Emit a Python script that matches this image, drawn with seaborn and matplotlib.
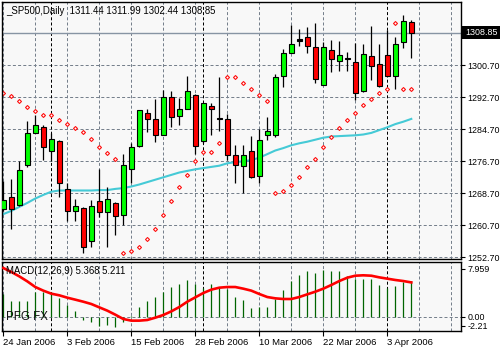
import numpy as np
import matplotlib
matplotlib.use("Agg")
import matplotlib.pyplot as plt
from matplotlib.patches import Rectangle
import seaborn as sns

# ---------------- data ----------------
opens = [1264.9, 1267.9, 1265.7, 1275.7, 1283.9, 1285.2, 1279.4, 1281.9, 1269.7, 1264.2,
         1265.0, 1256.7, 1266.8, 1264.1, 1266.4, 1263.4, 1274.9, 1280.5, 1288.9, 1287.4,
         1283.4, 1292.7, 1288.1, 1289.9, 1293.4, 1281.9, 1290.5, 1287.4, 1287.4, 1278.3,
         1275.6, 1279.3, 1273.1, 1283.3, 1283.4, 1298.0, 1303.9, 1307.0, 1307.9, 1305.2,
         1295.9, 1304.5, 1301.9, 1302.4, 1301.5, 1294.2, 1303.0, 1301.0, 1303.3, 1298.1,
         1306.6, 1311.44]
highs = [1271.8, 1272.3, 1276.8, 1286.9, 1288.3, 1285.8, 1283.7, 1282.0, 1271.4, 1267.4,
         1265.4, 1267.0, 1274.8, 1270.2, 1266.6, 1278.5, 1281.2, 1289.6, 1289.8, 1292.3,
         1294.5, 1294.3, 1292.6, 1298.0, 1293.5, 1291.3, 1291.2, 1297.7, 1288.5, 1280.8,
         1280.8, 1283.0, 1284.9, 1287.8, 1298.5, 1304.7, 1310.8, 1309.9, 1310.2, 1311.2,
         1306.6, 1307.0, 1306.8, 1304.1, 1306.4, 1306.0, 1310.5, 1306.0, 1309.5, 1307.9,
         1313.3, 1311.99]
lows = [1264.4, 1259.7, 1265.5, 1275.4, 1283.7, 1277.0, 1276.9, 1267.9, 1261.9, 1261.9,
        1253.9, 1255.2, 1262.9, 1255.2, 1258.3, 1260.9, 1271.2, 1280.4, 1284.1, 1281.6,
        1283.3, 1285.4, 1285.8, 1289.8, 1278.5, 1281.4, 1283.3, 1284.4, 1277.0, 1271.4,
        1268.7, 1272.5, 1271.2, 1282.0, 1282.9, 1295.2, 1303.8, 1305.5, 1303.9, 1296.2,
        1295.8, 1299.1, 1299.3, 1299.4, 1292.0, 1294.1, 1297.0, 1295.2, 1298.0, 1294.8,
        1305.1, 1302.44]
closes = [1267.0, 1264.9, 1274.5, 1283.7, 1285.8, 1280.2, 1282.2, 1271.2, 1264.2, 1265.5,
          1255.2, 1265.5, 1264.1, 1267.4, 1263.1, 1275.8, 1280.2, 1289.5, 1287.2, 1283.4,
          1292.9, 1287.9, 1289.9, 1294.4, 1280.6, 1291.2, 1289.7, 1287.4, 1278.4, 1275.8,
          1278.4, 1272.7, 1282.0, 1284.3, 1297.7, 1303.7, 1306.0, 1307.0, 1305.6, 1297.4,
          1305.2, 1302.2, 1303.3, 1302.4, 1293.7, 1303.5, 1300.6, 1295.6, 1298.1, 1306.0,
          1311.8, 1308.85]
moving_avg = [1263.5, 1264.3, 1265.3, 1266.3, 1267.4, 1268.3, 1269.1, 1269.4, 1269.4, 1269.4,
              1269.4, 1269.4, 1269.5, 1269.5, 1269.8, 1270.0, 1270.4, 1270.9, 1271.5, 1272.1,
              1272.7, 1273.3, 1273.9, 1274.3, 1274.7, 1275.0, 1275.3, 1275.6, 1276.2, 1276.5,
              1276.7, 1277.0, 1277.6, 1278.5, 1279.4, 1280.0, 1280.7, 1281.2, 1281.6, 1282.1,
              1282.6, 1282.9, 1283.0, 1283.1, 1283.2, 1283.4, 1283.8, 1284.5, 1285.2, 1286.0,
              1286.6, 1287.3]
sar = [1293.7, 1293.1, 1291.8, 1290.4, 1289.2, 1288.2, 1288.2, 1287.0, 1286.0, 1285.0,
       1284.0, 1282.2, 1280.4, 1278.7, 1277.2, 1253.9, 1254.4, 1255.4, 1257.4, 1259.9,
       1263.2, 1266.9, 1270.2, 1273.2, 1276.7, 1279.0, 1279.0, 1281.4, 1297.9, 1297.7,
       1296.4, 1294.9, 1293.2, 1291.7, 1268.7, 1269.2, 1270.7, 1272.9, 1275.4, 1277.4,
       1280.2, 1282.7, 1285.0, 1287.1, 1288.9, 1290.7, 1292.2, 1293.7, 1294.9, 1311.2,
       1294.9, 1294.9]
macd = [3.4, 2.33, 2.33, 2.33, 3.75, 3.75, 3.75, 2.9, 1.72, 0.81,
        -0.46, -0.81, -1.42, -1.32, -1.52, -0.81, 0.15, 1.42, 2.43, 3.04,
        3.75, 4.56, 4.96, 5.57, 4.96, 4.36, 4.96, 4.56, 4.15, 3.04,
        2.53, 1.32, 1.42, 1.42, 2.63, 4.05, 5.37, 6.28, 6.89, 6.59,
        7.09, 6.89, 6.89, 6.18, 5.78, 5.67, 5.67, 4.76, 4.36, 4.66,
        5.27, 5.368]
signal = [7.4, 6.8, 6.13, 5.37, 4.51, 3.96, 3.5, 3.25, 2.89, 2.59,
          2.28, 1.93, 1.42, 0.92, 0.31, -0.35, -0.6, -0.6, -0.5, -0.15,
          0.26, 0.81, 1.47, 2.28, 2.94, 3.6, 4.11, 4.41, 4.51, 4.51,
          4.26, 3.96, 3.45, 2.99, 2.79, 2.69, 2.69, 2.99, 3.4, 3.8,
          4.26, 4.82, 5.42, 5.93, 6.23, 6.29, 6.23, 5.98, 5.78, 5.58,
          5.42, 5.211]
date_labels = ["24 Jan 2006", "3 Feb 2006", "15 Feb 2006", "28 Feb 2006",
               "10 Mar 2006", "22 Mar 2006", "3 Apr 2006"]
date_label_bars = [0, 8, 16, 24, 32, 40, 48]
month_sep_bars = [6, 25, 48]
price_ticks = [1252.70, 1260.70, 1268.70, 1276.70, 1284.70, 1292.70, 1300.70]
last_price = 1308.85
title = "_SP500,Daily  1311.44 1311.99 1302.44 1308.85"
macd_title = "MACD(12,26,9) 5.368 5.211"

# ---------------- figure ----------------
W, H = 500, 350
plt.rcParams['font.family'] = ['Liberation Sans', 'DejaVu Sans']
fig = plt.figure(figsize=(W / 100, H / 100), dpi=100, facecolor='white')

def fx(px):
    return px / W

def fy(py):
    return 1 - py / H

left_px, right_px = 2, 460.5
main_top, main_bot = 2.3, 259.3
macd_top, macd_bot = 261.5, 330.5
ax = fig.add_axes([fx(left_px), fy(main_bot), fx(right_px - left_px), (main_bot - main_top) / H])
axm = fig.add_axes([fx(left_px), fy(macd_bot), fx(right_px - left_px), (macd_bot - macd_top) / H])

bg = '#F8F8F8'
grid_c = '#76808C'
dash = (0, (3, 2.2))
px = 0.72  # one pixel in points
lab_fs = 6.4

n = len(closes)
idx = np.arange(n)
xmin = -(3.3 - left_px) / 8
xmax = (right_px - 3.3) / 8

for a in (ax, axm):
    a.set_facecolor(bg)
    a.set_xlim(xmin, xmax)
    for s in a.spines.values():
        s.set_color('black')
        s.set_linewidth(1.0)
    for g in range(0, 57, 4):
        if g in month_sep_bars:
            continue
        a.axvline(g, color=grid_c, lw=px, ls=dash, zorder=0.5)
    for m in month_sep_bars:
        a.axvline(m, color='black', lw=px, ls=dash, zorder=0.6)

# ---- main panel ----
ax.set_ylim(1317.025 - main_bot / 4, 1317.025 - main_top / 4)
for p in price_ticks + [1308.70]:
    ax.axhline(p, color=grid_c, lw=px, ls=dash, zorder=0.5)
ax.axhline(last_price, color='#8794A3', lw=1.0, zorder=0.7)

sns.lineplot(x=idx, y=moving_avg, ax=ax, color='#45CAD6', lw=1.5, zorder=2, legend=False)
sns.scatterplot(x=idx, y=sar, ax=ax, marker='D', s=4, color='white',
                edgecolor='#FF1010', linewidth=0.8, zorder=2.5, legend=False)

o = np.array(opens); c = np.array(closes)
ax.vlines(idx, lows, highs, color='black', lw=0.9, zorder=3)
body_col = ['#00FF00' if cc > oo else ('#FF0000' if cc < oo else 'black') for oo, cc in zip(o, c)]
heights = np.where(np.abs(c - o) < 0.05, 0.35, np.abs(c - o))
bottoms = np.where(np.abs(c - o) < 0.05, o - 0.175, np.minimum(o, c))
ax.bar(idx, heights, bottom=bottoms, width=0.56, color=body_col,
       edgecolor='black', linewidth=0.8, zorder=4)

ax.yaxis.tick_right()
ax.set_yticks(price_ticks)
ax.set_yticklabels([f"{p:.2f}" for p in price_ticks])
ax.tick_params(axis='y', direction='out', length=3, width=0.8, pad=2, labelsize=lab_fs, colors='black')
ax.tick_params(axis='x', bottom=False, labelbottom=False)
ax.set_xlabel(''); ax.set_ylabel('')

fig.text(fx(6.5), fy(11), title, fontsize=6.9, va='center', ha='left', color='black')

# price box
yb = fy(38.5)
fig.patches.append(Rectangle((fx(461), yb), fx(39), 12.5 / H, transform=fig.transFigure,
                             facecolor='black', edgecolor='none', zorder=5))
fig.text(fx(465), fy(32.4), f"{last_price:.2f}", color='white', fontsize=lab_fs,
         va='center', ha='left', zorder=6)

# ---- MACD panel ----
zero_px = 316.7
scale = 6.58
axm.set_ylim(-(macd_bot - zero_px) / scale, (zero_px - macd_top) / scale)
axm.axhline(0, color=grid_c, lw=px, ls=dash, zorder=0.5)
axm.vlines(idx, 0, macd, color='#006400', lw=0.9, zorder=2)
sns.lineplot(x=idx, y=signal, ax=axm, color='#FF0000', lw=1.9, zorder=3, legend=False)
axm.yaxis.tick_right()
axm.set_yticks([(zero_px - 269) / scale, 0, (zero_px - 325.5) / scale])
axm.set_yticklabels(['7.959', '0.00', '-2.21'])
axm.tick_params(axis='y', direction='out', length=3, width=0.8, pad=2, labelsize=lab_fs, colors='black')
axm.set_xticks(date_label_bars)
axm.set_xticklabels(date_labels, ha='left')
axm.tick_params(axis='x', direction='out', length=3.5, width=0.8, pad=2, labelsize=6.8, colors='black')
axm.set_xlabel(''); axm.set_ylabel('')

fig.text(fx(6.5), fy(271), macd_title, fontsize=6.9, va='center', ha='left', color='black')
fig.text(fx(5.5), fy(317), "PFG FX", fontsize=8.3, va='center', ha='left', color='#111111')

fig.savefig('out.png', dpi=100, facecolor='white')
